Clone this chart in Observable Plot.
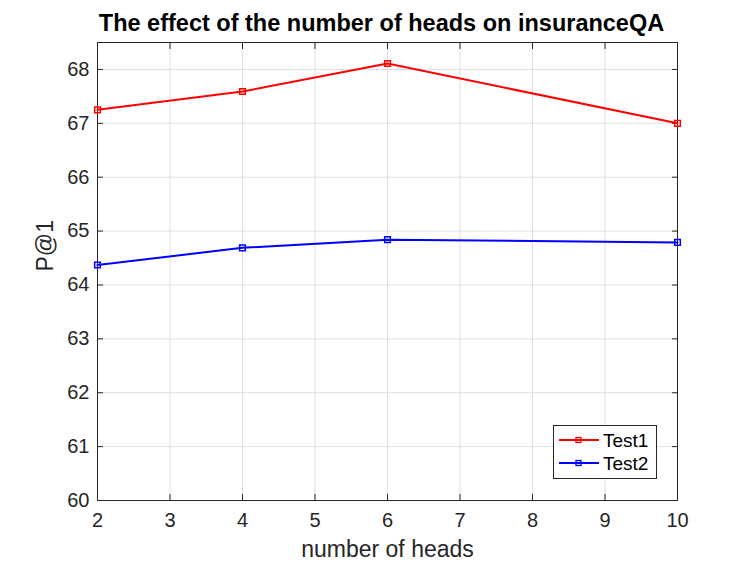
<!DOCTYPE html>
<html>
<head>
<meta charset="utf-8">
<script src="https://cdn.jsdelivr.net/npm/d3@7"></script>
<script src="https://cdn.jsdelivr.net/npm/@observablehq/plot@0.6"></script>
<style>
  body { margin: 0; background: #fff; }
  #chart svg { display: block; }
</style>
</head>
<body>
<div id="chart"></div>
<script>
const heads = [2, 4, 6, 10];
const test1 = [67.25, 67.59, 68.11, 67.0];
const test2 = [64.37, 64.69, 64.84, 64.79];
const seriesNames = ["Test1", "Test2"];
const seriesColors = ["#ff0000", "#0000ff"];
const xTicks = [2, 3, 4, 5, 6, 7, 8, 9, 10];
const yTicks = [60, 61, 62, 63, 64, 65, 66, 67, 68];
const titleText = "The effect of the number of heads on insuranceQA";
const xLabel = "number of heads";
const yLabel = "P@1";

const data = [
  ...heads.map((h, i) => ({heads: h, value: test1[i], series: seriesNames[0]})),
  ...heads.map((h, i) => ({heads: h, value: test2[i], series: seriesNames[1]}))
];

const axisColor = "#262626";
const font = "Liberation Sans, Arial, Helvetica, sans-serif";

const chart = Plot.plot({
  width: 747,
  height: 561,
  marginLeft: 97,
  marginRight: 70,
  marginTop: 42,
  marginBottom: 61,
  style: {fontFamily: font, background: "#fff", color: axisColor},
  x: {domain: [2, 10]},
  y: {domain: [60, 68.5]},
  color: {domain: seriesNames, range: seriesColors},
  marks: [
    Plot.gridX(xTicks, {stroke: "#dfdfdf", strokeOpacity: 1}),
    Plot.gridY(yTicks, {stroke: "#dfdfdf", strokeOpacity: 1}),
    Plot.axisX(xTicks, {anchor: "bottom", tickSize: 0, tickPadding: 12, fontSize: 20, label: null, fill: axisColor, tickFormat: d3.format("d")}),
    Plot.axisY(yTicks, {anchor: "left", tickSize: 0, tickPadding: 8, fontSize: 20, label: null, fill: axisColor, tickFormat: d3.format("d")}),
    Plot.axisX(xTicks, {anchor: "bottom", tickSize: -6, text: null, label: null, stroke: axisColor}),
    Plot.axisX(xTicks, {anchor: "top", tickSize: -6, text: null, label: null, stroke: axisColor}),
    Plot.axisY(yTicks, {anchor: "left", tickSize: -6, text: null, label: null, stroke: axisColor}),
    Plot.axisY(yTicks, {anchor: "right", tickSize: -6, text: null, label: null, stroke: axisColor}),
    Plot.frame({stroke: axisColor, strokeWidth: 1}),
    Plot.line(data, {x: "heads", y: "value", z: "series", stroke: "series", strokeWidth: 2}),
    Plot.dot(data, {x: "heads", y: "value", stroke: "series", symbol: "square", r: 3.2, strokeWidth: 1.5, fill: "none"}),
    Plot.text([titleText], {frameAnchor: "top", dx: -6, dy: -12, fontSize: 23.5, fontWeight: "bold", fill: "#000", lineAnchor: "bottom"}),
    Plot.text([xLabel], {frameAnchor: "bottom", dy: 56, fontSize: 23, fill: axisColor, lineAnchor: "bottom"}),
    Plot.text([yLabel], {frameAnchor: "left", dx: -52, rotate: -90, fontSize: 23, fill: axisColor})
  ]
});

document.getElementById("chart").appendChild(chart);

// Legend box inside the plot area (lower right)
const svg = d3.select(chart);
const lg = svg.append("g").attr("font-family", font).attr("text-anchor", "start");
const lx = 553, ly = 425, lw = 103, lh = 53;
lg.append("rect").attr("x", lx + 0.5).attr("y", ly + 0.5).attr("width", lw).attr("height", lh)
  .attr("fill", "#fff").attr("stroke", axisColor).attr("stroke-width", 1);
seriesNames.forEach((name, i) => {
  const yy = ly + 15 + i * 23;
  lg.append("line").attr("x1", lx + 6).attr("x2", lx + 46).attr("y1", yy).attr("y2", yy)
    .attr("stroke", seriesColors[i]).attr("stroke-width", 2);
  lg.append("rect").attr("x", lx + 23).attr("y", yy - 2.5).attr("width", 5).attr("height", 5)
    .attr("fill", "none").attr("stroke", seriesColors[i]).attr("stroke-width", 1.3);
  lg.append("text").attr("x", lx + 50).attr("y", yy).attr("dy", "0.35em")
    .attr("font-size", 19).attr("fill", "#000").text(name);
});
</script>
</body>
</html>
